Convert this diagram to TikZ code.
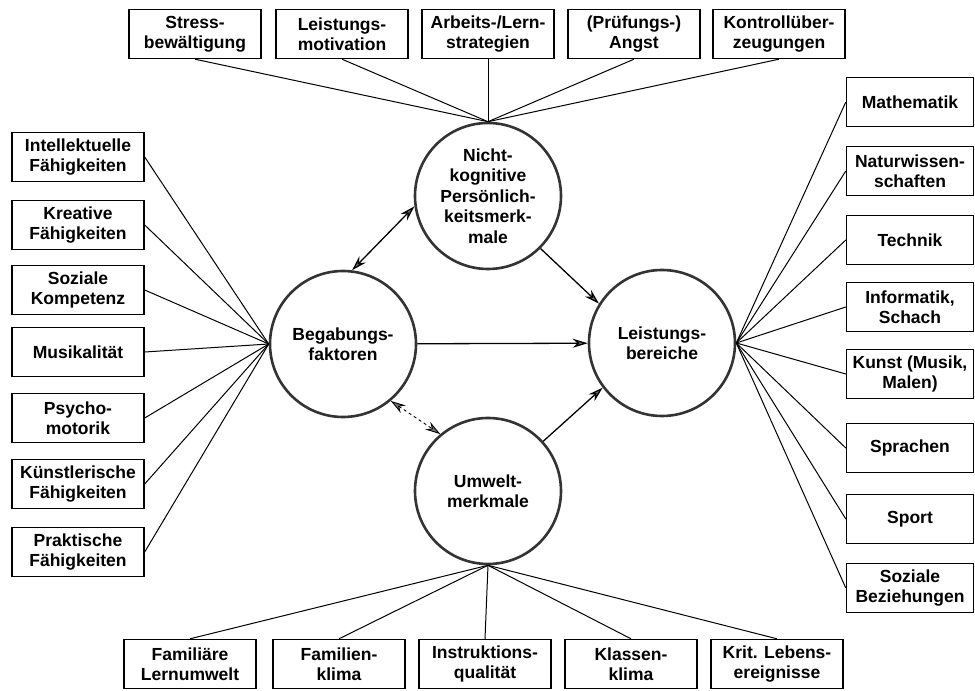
\documentclass[tikz,border=0pt]{standalone}
\usepackage{fontspec}
\setmainfont{Liberation Sans}
\usetikzlibrary{positioning, calc, arrows.meta, shapes}
\tikzset{box/.style={draw, line width=1.4pt, minimum width=132pt, minimum height=49pt, inner sep=1pt, align=center, font=\fontsize{17.5}{20}\selectfont\bfseries}}
\tikzset{rbox/.style={box, minimum width=127pt}}
\tikzset{factor/.style={circle, draw=black!80, line width=2.6pt, minimum size=146pt, inner sep=0pt, align=center, font=\fontsize{17.5}{20.5}\selectfont\bfseries}}
\tikzset{link/.style={line width=1pt}}
\tikzset{effect/.style={line width=1.3pt, -{Stealth[length=15pt, width=9pt, fill=black!55]}}}
\tikzset{mutual/.style={line width=1.3pt, {Stealth[length=15pt, width=9pt, fill=black!55]}-{Stealth[length=15pt, width=9pt, fill=black!55]}}}
\usepackage{xcolor}

\begin{document}
\begin{tikzpicture}[x=1pt, y=1pt]
      \useasboundingbox (0,0) rectangle (975,691);

      \node[factor] (nk) at (488,495) {Nicht-\\kognitive\\Persönlich-\\keitsmerk-\\male};
      \node[factor] (bg) at (343,347) {Begabungs-\\faktoren};
      \node[factor] (lb) at (662,348) {Leistungs-\\bereiche};
      \node[factor] (uw) at (488,200) {Umwelt-\\merkmale};

      \draw[mutual] (bg.83) -- (nk.188);
      \draw[effect] (nk.-45) -- (lb.148);
      \draw[effect] (bg) -- (lb);
      \draw[mutual, dashed, line width=0.9pt] (bg.-50) -- (uw.130);
      \draw[effect] (uw.42) -- (lb.217);

      \node[box] (t1) at (195,657) {Stress-\\bewältigung};
      \node[box] (t2) at (342,657) {Leistungs-\\motivation};
      \node[box] (t3) at (488,657) {Arbeits-/Lern-\\strategien};
      \node[box] (t4) at (634,657) {(Prüfungs-)\\Angst};
      \node[box] (t5) at (779,657) {Kontrollüber-\\zeugungen};
      \draw[link] (t1.south) -- (nk.north);
      \draw[link] (t2.south) -- (nk.north);
      \draw[link] (t3.south) -- (nk.north);
      \draw[link] (t4.south) -- (nk.north);
      \draw[link] (t5.south) -- (nk.north);

      \node[box] (l1) at (78,534) {Intellektuelle\\Fähigkeiten};
      \node[box] (l2) at (78,466) {Kreative\\Fähigkeiten};
      \node[box] (l3) at (78,401) {Soziale\\Kompetenz};
      \node[box] (l4) at (78,339) {Musikalität};
      \node[box] (l5) at (78,273) {Psycho-\\motorik};
      \node[box] (l6) at (78,207) {Künstlerische\\Fähigkeiten};
      \node[box] (l7) at (78,139) {Praktische\\Fähigkeiten};
      \draw[link] (l1.east) -- (bg.west);
      \draw[link] (l2.east) -- (bg.west);
      \draw[link] (l3.east) -- (bg.west);
      \draw[link] (l4.east) -- (bg.west);
      \draw[link] (l5.east) -- (bg.west);
      \draw[link] (l6.east) -- (bg.west);
      \draw[link] (l7.east) -- (bg.west);

      \node[rbox] (r1) at (910,589) {Mathematik};
      \node[rbox] (r2) at (910,520) {Naturwissen-\\schaften};
      \node[rbox] (r3) at (910,451) {Technik};
      \node[rbox] (r4) at (910,384) {Informatik,\\Schach};
      \node[rbox] (r5) at (910,317) {Kunst (Musik,\\Malen)};
      \node[rbox] (r6) at (910,243) {Sprachen};
      \node[rbox] (r7) at (910,172) {Sport};
      \node[rbox] (r8) at (910,103) {Soziale\\Beziehungen};
      \draw[link] (r1.west) -- (lb.east);
      \draw[link] (r2.west) -- (lb.east);
      \draw[link] (r3.west) -- (lb.east);
      \draw[link] (r4.west) -- (lb.east);
      \draw[link] (r5.west) -- (lb.east);
      \draw[link] (r6.west) -- (lb.east);
      \draw[link] (r7.west) -- (lb.east);
      \draw[link] (r8.west) -- (lb.east);

      \node[box] (b1) at (190,27) {Familiäre\\Lernumwelt};
      \node[box] (b2) at (339,27) {Familien-\\klima};
      \node[box] (b3) at (485,27) {Instruktions-\\qualität};
      \node[box] (b4) at (631,27) {Klassen-\\klima};
      \node[box] (b5) at (777,27) {Krit. Lebens-\\ereignisse};
      \draw[link] (b1.north) -- (uw.south);
      \draw[link] (b2.north) -- (uw.south);
      \draw[link] (b3.north) -- (uw.south);
      \draw[link] (b4.north) -- (uw.south);
      \draw[link] (b5.north) -- (uw.south);

    \end{tikzpicture}
\end{document}
